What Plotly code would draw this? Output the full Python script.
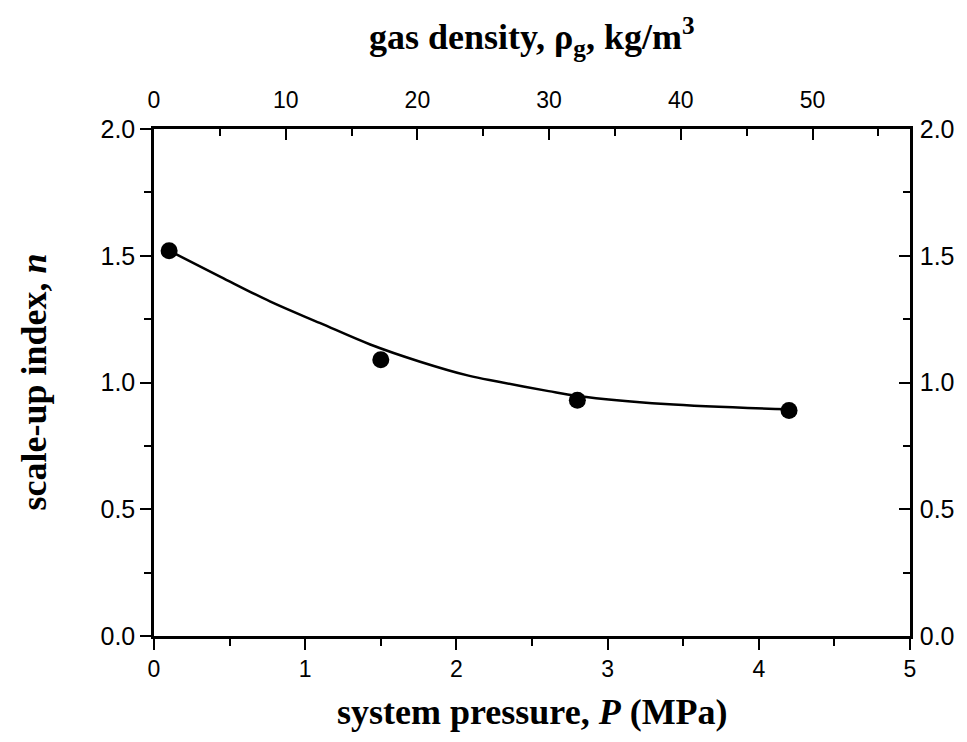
import plotly.graph_objects as go

# measured data
pressure = [0.1, 1.5, 2.8, 4.2]
n_index = [1.52, 1.09, 0.93, 0.89]

# fitted curve
fit_p = [0.1, 0.44, 0.77, 1.1, 1.43, 1.76, 2.08, 2.28, 2.61, 2.8, 3.38, 4.2]
fit_n = [1.52, 1.417, 1.319, 1.234, 1.150, 1.082, 1.027, 1.003, 0.966, 0.947, 0.915, 0.894]

# axes
x_range = [0, 5]
x_ticks = [0, 1, 2, 3, 4, 5]
x2_range = [0, 57.4]
x2_ticks = [0, 10, 20, 30, 40, 50]
y_range = [0, 2]
y_ticks = [0.0, 0.5, 1.0, 1.5, 2.0]
y_ticklabels = ["0.0", "0.5", "1.0", "1.5", "2.0"]

xtick_font = dict(family="Liberation Sans, Arial", size=23, color="black")
ytick_font = dict(family="Liberation Sans, Arial", size=25, color="black")
title_font = dict(family="Liberation Serif, Times New Roman", size=36, color="black")

fig = go.Figure()
fig.add_trace(go.Scatter(x=fit_p, y=fit_n, mode="lines",
                         line=dict(color="black", width=2.5, shape="spline", smoothing=1.0),
                         showlegend=False, hoverinfo="skip"))
fig.add_trace(go.Scatter(x=pressure, y=n_index, mode="markers",
                         marker=dict(color="black", size=17),
                         showlegend=False))
# invisible trace to anchor the secondary axes
fig.add_trace(go.Scatter(x=[x2_range[0]], y=[y_range[0]], xaxis="x2", yaxis="y2",
                         mode="markers", marker=dict(opacity=0), showlegend=False,
                         hoverinfo="skip"))

common = dict(showgrid=False, zeroline=False, showline=True, linecolor="black",
              linewidth=2.5, tickcolor="black", tickwidth=2)

fig.update_layout(
    width=959, height=734,
    margin=dict(l=146, r=55, t=121, b=106),
    paper_bgcolor="white", plot_bgcolor="white",
    xaxis=dict(range=x_range, tickvals=x_ticks, ticks="outside", ticklen=11,
               minor=dict(dtick=0.5, tick0=0, ticks="outside", ticklen=7,
                          tickcolor="black", tickwidth=2),
               tickfont=xtick_font, ticklabelstandoff=0, **common),
    xaxis2=dict(range=x2_range, tickvals=x2_ticks, ticks="inside", ticklen=11,
                overlaying="x", side="top", anchor="y",
                minor=dict(dtick=5, tick0=0, ticks="inside", ticklen=7,
                           tickcolor="black", tickwidth=2),
                tickfont=xtick_font, ticklabelstandoff=9, **common),
    yaxis=dict(range=y_range, tickvals=y_ticks, ticktext=y_ticklabels,
               ticks="outside", ticklen=11,
               minor=dict(dtick=0.25, tick0=0, ticks="outside", ticklen=7,
                          tickcolor="black", tickwidth=2),
               tickfont=ytick_font, ticklabelstandoff=0, **common),
    yaxis2=dict(range=y_range, tickvals=y_ticks, ticktext=y_ticklabels,
                overlaying="y", side="right", anchor="x",
                ticks="inside", ticklen=11,
                minor=dict(dtick=0.25, tick0=0, ticks="inside", ticklen=7,
                           tickcolor="black", tickwidth=2),
                tickfont=ytick_font, ticklabelstandoff=2, **common),
    annotations=[
        dict(text="<b>system pressure, <i>P</i> (MPa)</b>", xref="paper", yref="paper",
             x=0.5, y=0, yshift=-76, xanchor="center", yanchor="middle",
             showarrow=False, font=title_font),
        dict(text="<b>gas density, ρ<sub>g</sub>, kg/m<sup>3</sup></b>", xref="paper", yref="paper",
             x=0.5, y=1, yshift=92, xanchor="center", yanchor="middle",
             showarrow=False, font=title_font),
        dict(text="<b>scale-up index, <i>n</i></b>", xref="paper", yref="paper",
             x=0, y=0.5, xshift=-121, textangle=-90, xanchor="center", yanchor="middle",
             showarrow=False, font=title_font),
    ],
)

fig.write_html("out.html")
